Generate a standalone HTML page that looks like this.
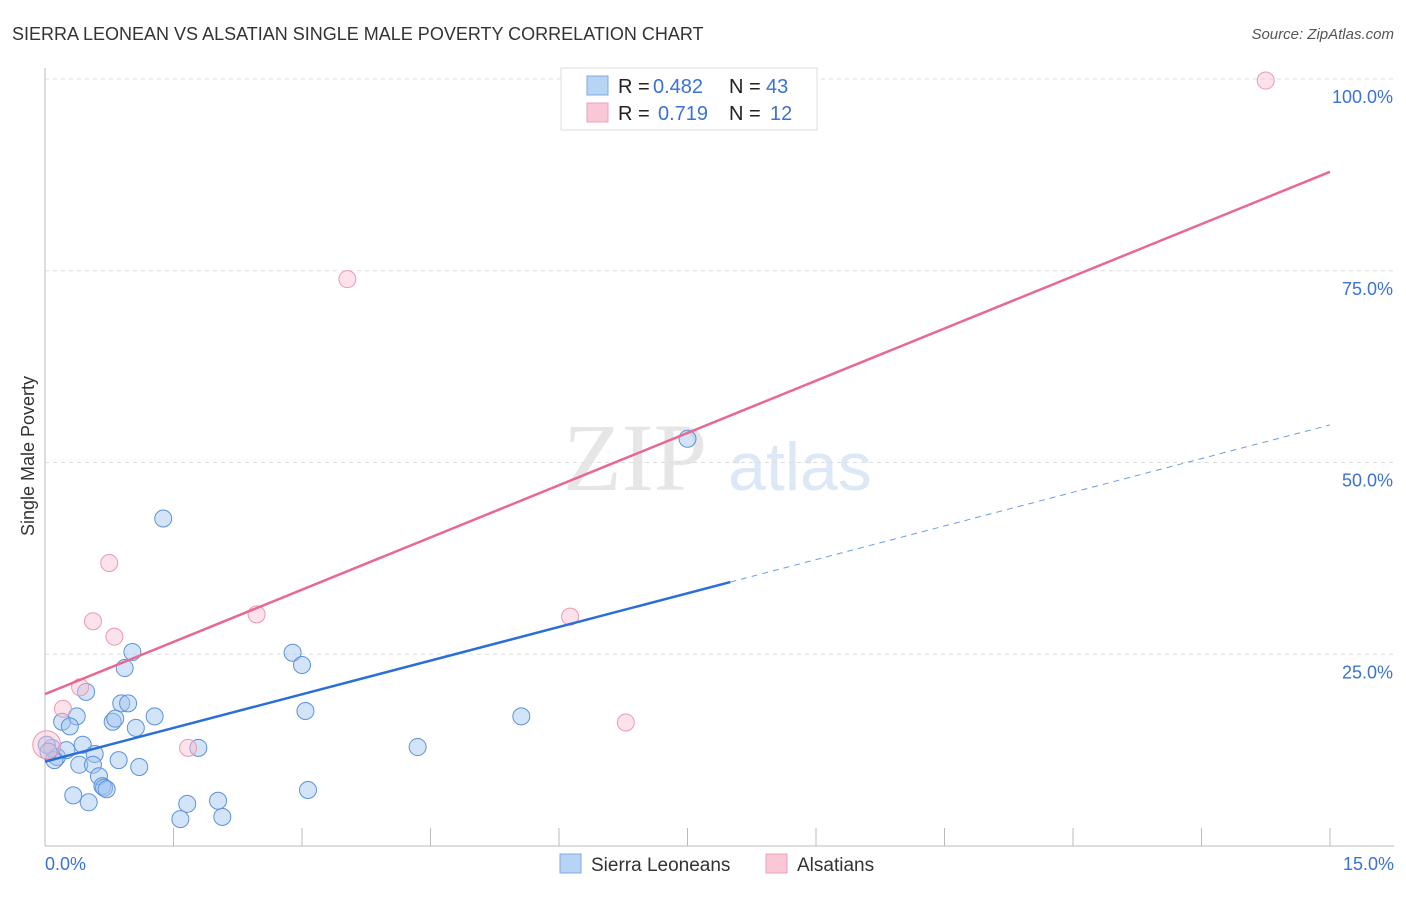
<!DOCTYPE html>
<html><head><meta charset="utf-8"><style>
body{margin:0;background:#fff;font-family:"Liberation Sans",sans-serif}
</style></head><body>
<svg id="c" width="1406" height="892" xmlns="http://www.w3.org/2000/svg">
<text x="12" y="40" font-size="18" fill="#333">SIERRA LEONEAN VS ALSATIAN SINGLE MALE POVERTY CORRELATION CHART</text>
<text x="1394" y="39" font-size="15" fill="#555" font-style="italic" text-anchor="end">Source: ZipAtlas.com</text>
<text x="635" y="490" font-size="96" fill="#e6e6e6" font-family="Liberation Serif,serif" text-anchor="middle">ZIP</text>
<text x="800" y="490" font-size="68" fill="#dce8f6" text-anchor="middle">atlas</text>
<g id="grid"></g><g id="marks"></g>
<text x="34" y="456" font-size="18" fill="#333" transform="rotate(-90 34 456)" text-anchor="middle">Single Male Poverty</text>
<g>
<rect x="561" y="68" width="256" height="62" fill="#fff" stroke="#ddd"/>
<rect x="587" y="76" width="21" height="19" fill="#b8d4f5" stroke="#7fa8e0"/>
<rect x="587" y="103" width="21" height="19" fill="#f9c7d6" stroke="#eda0b8"/>
<text x="618" y="93" font-size="20" fill="#222">R =</text>
<text x="653" y="93" font-size="20" fill="#3a72d6">0.482</text>
<text x="729" y="93" font-size="20" fill="#222">N =</text>
<text x="766" y="93" font-size="20" fill="#3a72d6">43</text>
<text x="618" y="120" font-size="20" fill="#222">R =</text>
<text x="658" y="120" font-size="20" fill="#3a72d6">0.719</text>
<text x="729" y="120" font-size="20" fill="#222">N =</text>
<text x="770" y="120" font-size="20" fill="#3a72d6">12</text>
</g>
<g>
<rect x="560" y="854" width="21" height="19" fill="#b8d4f5" stroke="#7fa8e0"/>
<text x="591" y="871" font-size="19" fill="#333">Sierra Leoneans</text>
<rect x="766" y="854" width="21" height="19" fill="#f9c7d6" stroke="#eda0b8"/>
<text x="797" y="871" font-size="19" fill="#333">Alsatians</text>
</g>
</svg>
<script>
const yTicks=[25,50,75,100];
const yTickLabels=["25.0%","50.0%","75.0%","100.0%"];
const xTickCount=10;
const blueX=[7.5,1.38,1.02,0.93,2.89,3,0.48,0.89,0.97,3.04,5.56,1.28,0.37,0.2,0.29,0.79,0.82,1.06,1.79,4.35,0.44,0.58,0.08,0.14,0.25,0.86,1.1,0.4,0.56,0.63,0.67,0.69,0.72,0.33,0.51,3.07,2.02,1.66,1.58,2.07,0.02,0.11,0.04];
const blueY=[53.1,42.7,25.3,23.2,25.2,23.6,20.1,18.6,18.6,17.6,16.9,16.9,16.9,16.2,15.6,16.2,16.6,15.4,12.8,12.9,13.2,12,12.8,11.6,12.5,11.2,10.3,10.6,10.6,9.1,7.8,7.6,7.4,6.6,5.7,7.3,5.9,5.5,3.5,3.8,13.2,11.2,12.3];
const pinkX=[14.25,3.53,0.75,2.47,0.56,0.81,6.13,0.41,0.21,6.78,1.67,0.02];
const pinkY=[99.8,73.9,36.9,30.2,29.3,27.3,29.9,20.7,17.9,16.1,12.8,13.2];
const blueTrend=[11.0,54.9], pinkTrend=[19.8,87.9];
const X0=45,X1=1330,Y0=846,Y100=79;
const sx=v=>X0+v/15*(X1-X0), sy=v=>Y0-v/100*(Y0-Y100);
const NS="http://www.w3.org/2000/svg";
const G=document.getElementById('grid'),M=document.getElementById('marks');
function mk(p,t,a){const e=document.createElementNS(NS,t);for(const k in a)e.setAttribute(k,a[k]);p.appendChild(e);return e;}
let ax=mk(G,'line',{x1:X0,y1:68,x2:X0,y2:Y0,stroke:'#bbb'});


let bx=mk(G,'line',{x1:X0,y1:Y0,x2:1394,y2:Y0,stroke:'#bbb'});


yTicks.forEach((t,i)=>{
 const g=mk(G,'line',{x1:X0,y1:sy(t),x2:1394,y2:sy(t),stroke:'#ddd','stroke-dasharray':'4,4'});
 
 
 const l=mk(G,'text',{x:1393,y:sy(t)+24,'font-size':18,fill:'#3a72d6','text-anchor':'end'});
 l.textContent=yTickLabels[i];
 
 
});
for(let i=1;i<=xTickCount;i++){
 const x=sx(i*15/xTickCount);
 const t=mk(G,'line',{x1:x,y1:Y0-18,x2:x,y2:Y0,stroke:'#bbb'});
 
 
}
[["0.0%",45,'start'],["15.0%",1394,'end']].forEach(([s,x,a])=>{
 const l=mk(G,'text',{x:x,y:870,'font-size':18,fill:'#3a72d6','text-anchor':a});l.textContent=s;
 
 
});
blueX.forEach((v,i)=>{
 const c=mk(M,'circle',{cx:sx(v),cy:sy(blueY[i]),r:8.5,fill:'rgba(160,196,240,0.45)',stroke:'#5b92dc','stroke-width':1});
 
 
});
pinkX.forEach((v,i)=>{
 const c=mk(M,'circle',{cx:sx(v),cy:sy(pinkY[i]),r:i==pinkX.length-1?14:8.5,fill:'rgba(248,190,208,0.45)',stroke:'#eb9ab4','stroke-width':1});
 
 
});
const bm=blueTrend[0]+(blueTrend[1]-blueTrend[0])*(8/15);
let l1=mk(M,'line',{x1:sx(0),y1:sy(blueTrend[0]),x2:sx(8),y2:sy(bm),stroke:'#2a6fd6','stroke-width':2.5});


let l2=mk(M,'line',{x1:sx(8),y1:sy(bm),x2:sx(15),y2:sy(blueTrend[1]),stroke:'#6a9ee0','stroke-width':1,'stroke-dasharray':'6,5'});


let l3=mk(M,'line',{x1:sx(0),y1:sy(pinkTrend[0]),x2:sx(15),y2:sy(pinkTrend[1]),stroke:'#e8688f','stroke-width':2.5});


</script>
</body></html>
